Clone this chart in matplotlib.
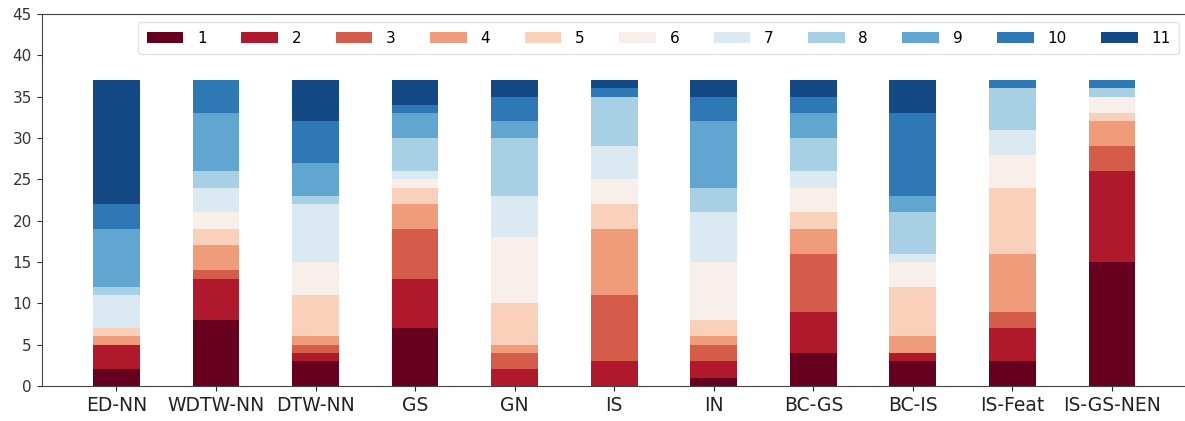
import matplotlib
matplotlib.use("Agg")
import matplotlib.pyplot as plt
import numpy as np
import pandas as pd

methods = ["ED-NN", "WDTW-NN", "DTW-NN", "GS", "GN", "IS", "IN",
           "BC-GS", "BC-IS", "IS-Feat", "IS-GS-NEN"]
ranks = ["1", "2", "3", "4", "5", "6", "7", "8", "9", "10", "11"]

r1 = [2, 8, 3, 7, 0, 0, 1, 4, 3, 3, 15]
r2 = [3, 5, 1, 6, 2, 3, 2, 5, 1, 4, 11]
r3 = [0, 1, 1, 6, 2, 8, 2, 7, 0, 2, 3]
r4 = [1, 3, 1, 3, 1, 8, 1, 3, 2, 7, 3]
r5 = [1, 2, 5, 2, 5, 3, 2, 2, 6, 8, 1]
r6 = [0, 2, 4, 1, 8, 3, 7, 3, 3, 4, 2]
r7 = [4, 3, 7, 1, 5, 4, 6, 2, 1, 3, 0]
r8 = [1, 2, 1, 4, 7, 6, 3, 4, 5, 5, 1]
r9 = [7, 7, 4, 3, 2, 0, 8, 3, 2, 0, 0]
r10 = [3, 4, 5, 1, 3, 1, 3, 2, 10, 1, 1]
r11 = [15, 0, 5, 3, 2, 1, 2, 2, 4, 0, 0]

colors = ['#67001f', '#b0182b', '#d55c4a', '#f09c7a', '#f9d0b9', '#f8efea',
          '#dbe9f2', '#a8d0e4', '#60a6d1', '#2e78b5', '#134a86']

df = pd.DataFrame({k: v for k, v in zip(ranks, [r1, r2, r3, r4, r5, r6, r7, r8, r9, r10, r11])},
                  index=methods)

fig = plt.figure(figsize=(11.85, 4.21), dpi=100)
ax = fig.add_axes([41.7 / 1185, 35 / 421, 1145 / 1185, 372 / 421])
df.plot(kind='bar', stacked=True, color=colors, width=0.47, ax=ax,
        linewidth=0)

ax.set_xlim(-0.75, 10.75)
ax.set_ylim(0, 45)
ax.set_yticks(np.arange(0, 46, 5))
ax.tick_params(axis='x', labelsize=13.5, rotation=0, colors='#222222')
ax.tick_params(axis='y', labelsize=11, colors='#333333')
for sp in ax.spines.values():
    sp.set_color('#444444')

leg = ax.legend(ncol=11, loc='upper right', bbox_to_anchor=(0.9933, 0.978),
                borderaxespad=0, fontsize=11, frameon=True, handlelength=2.4,
                columnspacing=2.25, handletextpad=0.9, borderpad=0.55)
leg.get_frame().set_edgecolor('#dddddd')

fig.savefig("out.png", dpi=100)
